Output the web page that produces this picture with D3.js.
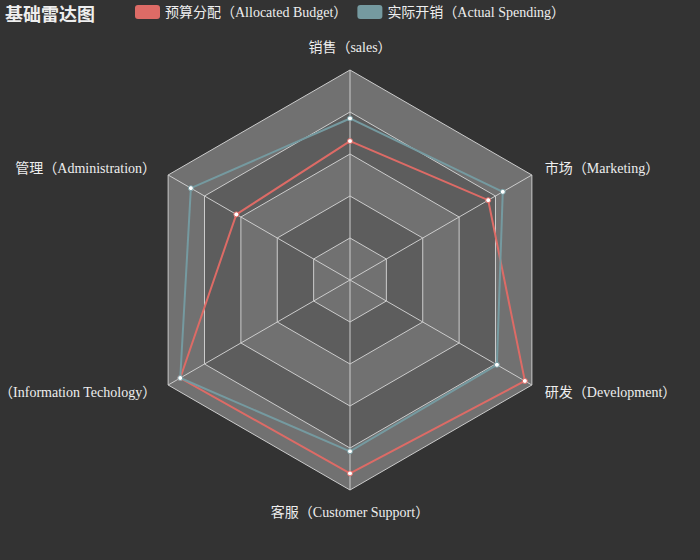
<!DOCTYPE html>
<html><head><meta charset="utf-8">
<script src="https://cdn.jsdelivr.net/npm/d3@7"></script>
<style>
html,body{margin:0;padding:0;background:#333333;}
svg{display:block;font-family:"Liberation Serif","Noto Sans CJK SC",serif;}
</style></head>
<body>
<svg id="chart" width="700" height="560"></svg>
<script>
const indicators = ["销售（sales）","管理（Administration）","信息技术（Information Techology）","客服（Customer Support）","研发（Development）","市场（Marketing）"];
const maxValues = [6500, 16000, 30000, 38000, 52000, 25000];
const seriesNames = ["预算分配（Allocated Budget）","实际开销（Actual Spending）"];
const budget = [4300, 10000, 28000, 35000, 50000, 19000];
const actual = [5000, 14000, 28000, 31000, 42000, 21000];
const colors = ["#dd6b66", "#759aa0"];

const svg = d3.select("#chart");
const W = 700, H = 560;
svg.append("rect").attr("width", W).attr("height", H).attr("fill", "#333333");

const cx = 350, cy = 280, R = 210;
const n = indicators.length;
const angle = i => -Math.PI / 2 - i * 2 * Math.PI / n; // counter-clockwise from top
const rScales = maxValues.map(m => d3.scaleLinear().domain([0, m]).range([0, R]));
const ringScale = d3.scaleLinear().domain([0, 5]).range([0, R]);
const pt = (r, i) => [cx + r * Math.cos(angle(i)), cy + r * Math.sin(angle(i))];

const g = svg.append("g");
// split areas (outer to inner)
for (let k = 5; k >= 1; k--) {
  const r = ringScale(k);
  const pts = d3.range(n).map(i => pt(r, i));
  g.append("path")
    .attr("d", d3.line()(pts) + "Z")
    .attr("fill", (k % 2 === 1) ? "#717171" : "#5d5d5d");
}
// split lines
for (let k = 1; k <= 5; k++) {
  const r = ringScale(k);
  const pts = d3.range(n).map(i => pt(r, i));
  g.append("path")
    .attr("d", d3.line()(pts) + "Z")
    .attr("fill", "none")
    .attr("stroke", "#cccccc")
    .attr("stroke-width", 1);
}
// axis lines
d3.range(n).forEach(i => {
  const p = pt(R, i);
  g.append("line").attr("x1", cx).attr("y1", cy).attr("x2", p[0]).attr("y2", p[1])
    .attr("stroke", "#cccccc").attr("stroke-width", 1);
});

// series
[budget, actual].forEach((vals, s) => {
  const pts = vals.map((v, i) => pt(rScales[i](v), i));
  g.append("path")
    .attr("d", d3.line()(pts) + "Z")
    .attr("fill", "none")
    .attr("stroke", colors[s])
    .attr("stroke-width", 2);
  g.selectAll(null).data(pts).enter().append("circle")
    .attr("cx", d => d[0]).attr("cy", d => d[1]).attr("r", 2.5)
    .attr("fill", "#ffffff").attr("stroke", colors[s]).attr("stroke-width", 1);
});

// indicator labels
d3.range(n).forEach(i => {
  const a = angle(i);
  const c = Math.cos(a), s = Math.sin(a);
  const vertical = Math.abs(c) < 0.01;
  const anchor = vertical ? "middle" : (c > 0 ? "start" : "end");
  const x = vertical ? cx : (c > 0 ? cx + R * c + 13 : cx + R * c - 12);
  const y = vertical ? (s < 0 ? cy - R - 23 : cy + R + 22) : (s < 0 ? 168 : 392);
  svg.append("text")
    .attr("x", x)
    .attr("y", y)
    .attr("dy", "0.35em")
    .attr("text-anchor", anchor)
    .attr("fill", "#eeeeee")
    .attr("font-size", 14)
    .text(indicators[i]);
});

// title
svg.append("text").attr("x", 5).attr("y", 21)
  .attr("fill", "#eeeeee").attr("font-size", 18).attr("font-weight", "bold")
  .attr("font-family", "'Noto Sans CJK SC', sans-serif")
  .text("基础雷达图");

// legend
const legend = svg.append("g");
let lx = 135;
seriesNames.forEach((name, s) => {
  const item = legend.append("g").attr("transform", `translate(${lx},5)`);
  item.append("rect").attr("width", 25).attr("height", 14).attr("rx", 3)
    .attr("fill", colors[s]);
  const t = item.append("text").attr("x", 30).attr("y", 7).attr("dy", "0.35em")
    .attr("fill", "#eeeeee").attr("font-size", 14).text(name);
  lx += 30 + t.node().getComputedTextLength() + 10;
});
</script>
</body></html>
